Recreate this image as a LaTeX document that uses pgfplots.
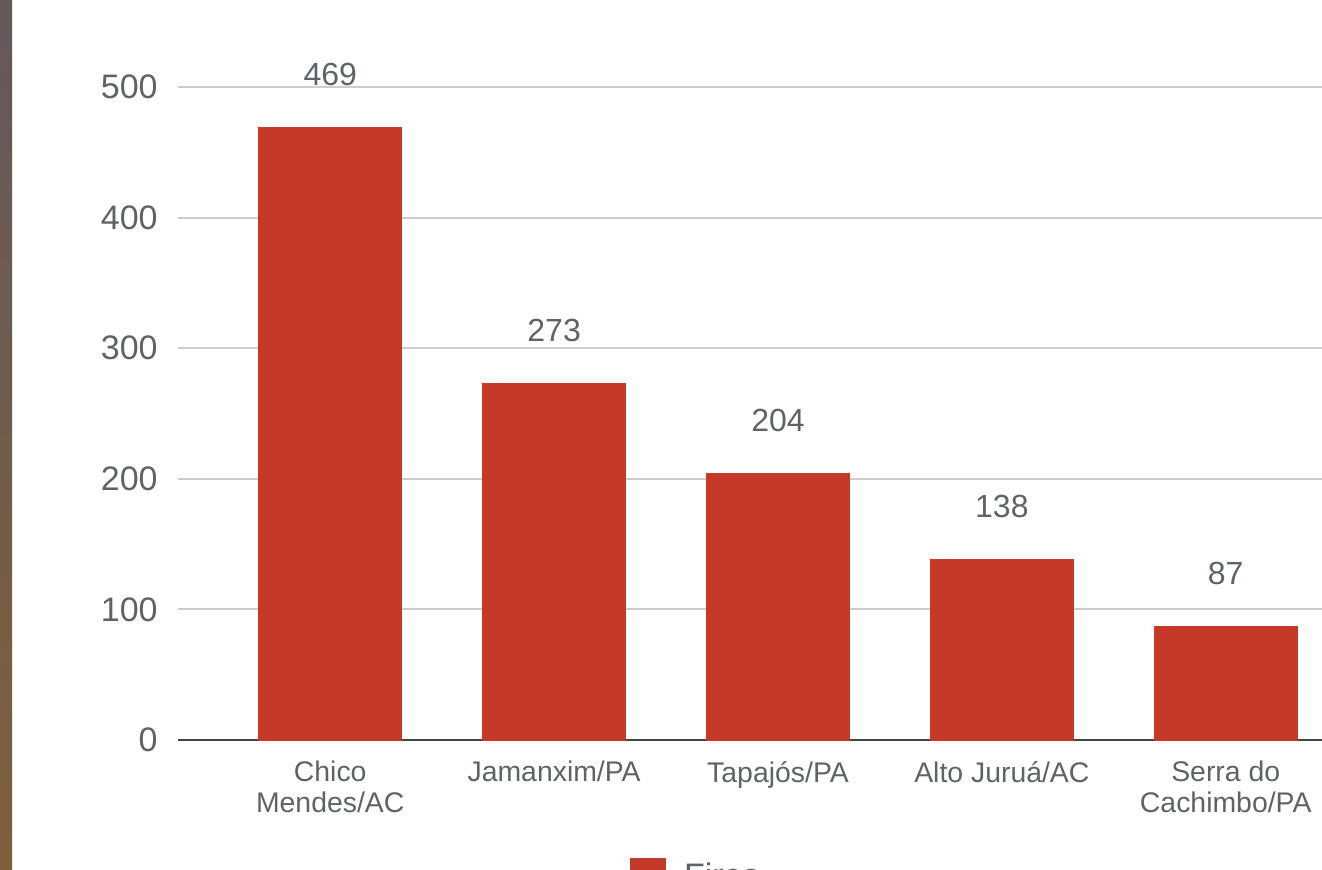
\documentclass[border=0pt]{standalone}
\usepackage{fontspec}
\setmainfont{Liberation Sans}
\usepackage{pgfplots}
\pgfplotsset{compat=1.18}
\definecolor{barred}{RGB}{197,57,41}
\definecolor{txtgray}{RGB}{95,99,104}
\definecolor{gridgray}{RGB}{204,204,204}
\definecolor{axisdark}{RGB}{70,70,70}
\begin{document}
\begin{tikzpicture}
\useasboundingbox (0pt,0pt) rectangle (661pt,434.5pt);
\clip (0pt,0pt) rectangle (661pt,434.5pt);
\fill[white] (0pt,0pt) rectangle (661pt,434.5pt);
\shade[top color={rgb,255:red,100;green,90;blue,92}, bottom color={rgb,255:red,125;green,95;blue,60}] (0pt,0pt) rectangle (6pt,434.5pt);
\begin{axis}[
  at={(89pt,64.5pt)}, anchor=south west,
  scale only axis, width=572pt, height=326.5pt,
  ybar, bar width=71.5pt, bar shift=0pt,
  xmin=-0.68, xmax=4.43, ymin=0, ymax=500,
  xtick={0,1,2,3,4},
  xticklabels={Chico\\Mendes/AC, Jamanxim/PA, Tapajós/PA, Alto Juruá/AC, Serra do\\Cachimbo/PA},
  ytick={0,100,200,300,400,500},
  major tick length=0pt,
  ymajorgrids, grid style={color=gridgray, line width=1pt},
  axis x line*=bottom, axis y line*=left,
  x axis line style={color=axisdark, line width=1pt, -},
  y axis line style={draw=none},
  /pgf/number format/assume math mode=true,
  yticklabel style={font=\fontsize{17}{20}\selectfont, text=txtgray, inner sep=0pt, xshift=-10pt},
  xticklabel style={font=\fontsize{14.2}{15.5}\selectfont, text=txtgray, align=center, anchor=north, inner sep=0pt, yshift=-10.5pt},
  nodes near coords,
  nodes near coords style={font=\fontsize{16}{18}\selectfont, text=txtgray, anchor=center, yshift=26.5pt},
  clip=false,
  legend style={at={(axis description cs:0.395,0)}, anchor=north west, yshift=-59pt, draw=none, fill=none, inner sep=0pt, column sep=7pt, font=\fontsize{17}{20}\selectfont, text=txtgray},
  legend cell align=left,
  legend image code/.code={\fill[barred] (0pt,-8.75pt) rectangle (17.5pt,8.75pt);},
]
\addplot[fill=barred, draw=barred] coordinates {(0,469) (1,273) (2,204) (3,138) (4,87)};
\addlegendentry{Fires}
\end{axis}
\end{tikzpicture}
\end{document}
